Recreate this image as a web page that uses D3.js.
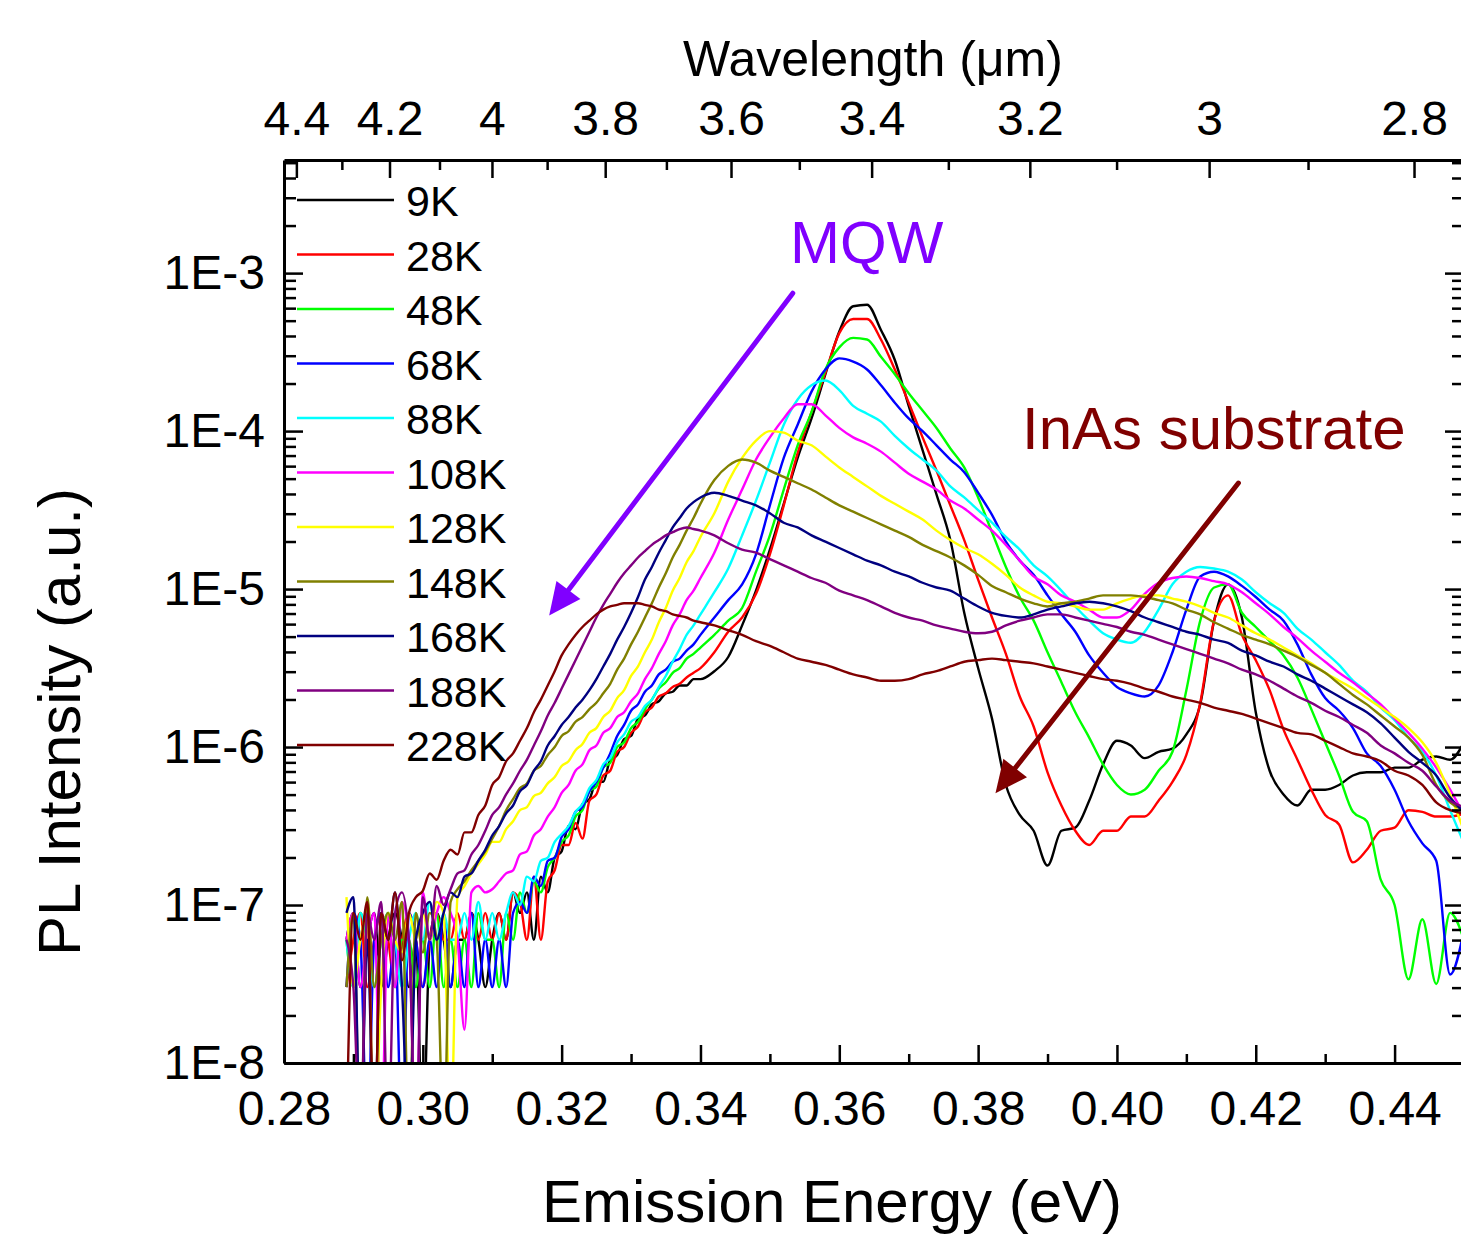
<!DOCTYPE html>
<html>
<head>
<meta charset="utf-8">
<script src="https://cdn.jsdelivr.net/npm/d3@7"></script>
<style>
body { margin: 0; background: #fff; }
text { font-family: Arial, "Liberation Sans", sans-serif; }
</style>
</head>
<body>
<div id="chart"></div>
<script>
// emission energy grid (eV): fine steps over the noisy low-energy side
var energy = [0.289,0.290,0.291,0.292,0.293,0.294,0.295,0.296,0.297,0.298,0.299,0.300,0.301,0.302,0.303,0.304,0.305,0.306,0.307,0.308,0.309,
  0.310,0.311,0.312,0.313,0.314,0.315,0.316,0.317,0.318,0.319,0.320,0.321,0.322,0.323,0.324,0.325,0.326,0.327,0.328,0.329,
  0.330,0.331,0.332,0.333,0.334,0.335,0.336,0.337,0.338,0.339,0.340,
  0.342,0.344,0.346,0.348,0.350,
  0.352,0.354,0.356,0.358,0.360,0.362,0.364,0.366,0.368,0.370,
  0.372,0.374,0.376,0.378,0.380,0.382,0.384,0.386,0.388,0.390,
  0.392,0.394,0.396,0.398,0.400,0.402,0.404,0.406,0.408,0.410,
  0.412,0.414,0.416,0.418,0.420,0.422,0.424,0.426,0.428,0.430,
  0.432,0.434,0.436,0.438,0.440,0.442,0.444,0.446,0.448,0.450]

var temps = ["9K","28K","48K","68K","88K","108K","128K","148K","168K","188K","228K"]
var colors = ["#000000","#ff0000","#00ff00","#0000ff","#00ffff","#ff00ff","#ffff00","#808000","#000080","#800080","#800000"]

// log10 of PL intensity (a.u.), one value per energy
var lg9K = [-7.22,-7.05,-7.52,-7.22,-7.05,-7.52,-7.22,-7.05,-7.22,-7.52,-7.22,-8.5,-7.22,-7.05,-7.22,-7.52,-7.22,-7.22,-7.05,-7.22,-7.52,
  -7.22,-7.05,-7.22,-6.92,-7.05,-6.92,-7.22,-6.82,-6.92,-6.70,-6.66,-6.50,-6.52,-6.36,-6.33,-6.22,-6.22,-6.08,-6.05,-5.95,
  -5.93,-5.82,-5.80,-5.73,-5.71,-5.66,-5.65,-5.61,-5.61,-5.57,-5.57,
  -5.52,-5.43,-5.23,-5.01,-4.75,
  -4.46,-4.17,-3.92,-3.64,-3.37,-3.21,-3.20,-3.36,-3.55,-3.84,
  -4.12,-4.40,-4.69,-5.15,-5.50,-5.82,-6.24,-6.43,-6.53,-6.75,
  -6.53,-6.51,-6.34,-6.11,-5.96,-5.99,-6.07,-6.03,-6.01,-5.92,
  -5.73,-5.20,-4.97,-5.18,-5.78,-6.15,-6.30,-6.37,-6.27,-6.27,
  -6.24,-6.18,-6.16,-6.16,-6.13,-6.13,-6.08,-6.06,-6.08,-5.97]
var lg28K = [-7.52,-7.22,-7.05,-7.52,-7.22,-7.05,-7.22,-7.52,-7.22,-7.05,-7.22,-7.52,-7.22,-7.05,-7.22,-7.22,-7.05,-7.22,-7.05,-7.22,-7.05,
  -7.22,-7.05,-7.22,-6.92,-6.98,-7.22,-6.82,-7.22,-6.85,-6.78,-6.62,-6.62,-6.48,-6.58,-6.34,-6.30,-6.18,-6.15,-6.03,-6.0,
  -5.91,-5.87,-5.78,-5.75,-5.68,-5.66,-5.62,-5.60,-5.56,-5.53,-5.50,
  -5.40,-5.27,-5.18,-5.03,-4.78,
  -4.47,-4.14,-3.88,-3.63,-3.38,-3.29,-3.29,-3.42,-3.61,-3.82,
  -4.04,-4.25,-4.47,-4.69,-4.94,-5.18,-5.41,-5.68,-5.87,-6.16,
  -6.37,-6.53,-6.62,-6.53,-6.53,-6.44,-6.44,-6.34,-6.22,-6.05,
  -5.72,-5.20,-5.04,-5.29,-5.45,-5.64,-5.89,-6.08,-6.27,-6.43,
  -6.49,-6.73,-6.65,-6.53,-6.51,-6.40,-6.41,-6.44,-6.44,-6.42]
var lg48K = [-7.22,-7.52,-7.05,-7.22,-7.52,-7.22,-7.05,-7.52,-7.22,-7.22,-7.52,-7.22,-7.52,-7.05,-7.52,-7.22,-7.52,-7.22,-7.52,-7.05,-7.22,
  -7.22,-7.52,-7.05,-7.22,-6.92,-7.05,-6.85,-6.92,-6.76,-6.70,-6.60,-6.56,-6.44,-6.40,-6.28,-6.25,-6.13,-6.10,-6.00,-5.97,
  -5.88,-5.84,-5.76,-5.70,-5.63,-5.59,-5.53,-5.50,-5.44,-5.41,-5.37,
  -5.29,-5.20,-5.12,-4.89,-4.66,
  -4.37,-4.09,-3.88,-3.61,-3.47,-3.41,-3.42,-3.53,-3.64,-3.76,
  -3.87,-3.98,-4.11,-4.23,-4.42,-4.64,-4.86,-5.05,-5.20,-5.40,
  -5.59,-5.78,-5.94,-6.11,-6.24,-6.30,-6.27,-6.15,-6.03,-5.64,
  -5.20,-4.99,-4.97,-5.15,-5.24,-5.33,-5.42,-5.56,-5.76,-5.97,
  -6.18,-6.41,-6.47,-6.84,-7.0,-7.47,-7.09,-7.50,-7.05,-7.22]
var lg68K = [-7.52,-7.05,-7.22,-8.5,-7.22,-7.05,-7.52,-7.22,-8.5,-7.05,-7.22,-7.52,-7.22,-7.52,-7.05,-7.52,-7.22,-7.52,-7.05,-7.52,-7.22,
  -7.52,-7.22,-7.52,-7.05,-6.98,-7.05,-6.82,-6.88,-6.72,-6.70,-6.57,-6.52,-6.41,-6.38,-6.28,-6.22,-6.13,-6.04,-5.93,-5.86,
  -5.77,-5.73,-5.65,-5.61,-5.54,-5.51,-5.46,-5.44,-5.39,-5.35,-5.29,
  -5.18,-5.07,-4.97,-4.78,-4.47,
  -4.17,-3.96,-3.75,-3.61,-3.54,-3.56,-3.61,-3.71,-3.82,-3.92,
  -4.0,-4.09,-4.18,-4.26,-4.39,-4.53,-4.70,-4.82,-4.91,-5.04,
  -5.16,-5.27,-5.42,-5.53,-5.62,-5.66,-5.68,-5.61,-5.40,-5.13,
  -4.92,-4.89,-4.92,-4.98,-5.05,-5.13,-5.20,-5.35,-5.54,-5.69,
  -5.77,-5.88,-6.04,-6.12,-6.27,-6.47,-6.61,-6.72,-7.44,-7.16]
var lg88K = [-7.22,-7.52,-7.05,-7.22,-7.52,-7.22,-7.05,-7.22,-7.52,-7.22,-7.05,-7.22,-6.98,-7.22,-7.05,-7.22,-7.22,-7.05,-7.22,-6.98,-7.22,
  -7.05,-7.22,-7.05,-6.92,-7.0,-6.82,-6.85,-6.72,-6.70,-6.60,-6.55,-6.50,-6.41,-6.36,-6.26,-6.21,-6.11,-6.07,-5.97,-5.92,
  -5.84,-5.81,-5.74,-5.70,-5.62,-5.55,-5.46,-5.38,-5.29,-5.23,-5.16,
  -5.02,-4.87,-4.66,-4.44,-4.20,
  -3.96,-3.80,-3.71,-3.68,-3.74,-3.84,-3.89,-3.94,-4.03,-4.11,
  -4.18,-4.25,-4.35,-4.42,-4.50,-4.58,-4.67,-4.75,-4.85,-4.92,
  -5.01,-5.11,-5.20,-5.28,-5.32,-5.34,-5.27,-5.13,-4.97,-4.89,
  -4.86,-4.87,-4.89,-4.94,-5.02,-5.09,-5.15,-5.25,-5.32,-5.40,
  -5.48,-5.58,-5.65,-5.75,-5.83,-5.94,-6.03,-6.18,-6.40,-6.61]
var lg108K = [-7.22,-7.05,-7.52,-7.22,-7.05,-8.5,-7.05,-7.52,-6.98,-7.22,-8.5,-6.92,-7.22,-7.05,-6.95,-7.05,-7.22,-7.79,-6.92,-6.88,-6.92,
  -6.9,-6.85,-6.80,-6.78,-6.68,-6.66,-6.56,-6.52,-6.44,-6.38,-6.29,-6.24,-6.15,-6.11,-6.02,-5.99,-5.91,-5.88,-5.81,-5.78,
  -5.71,-5.66,-5.57,-5.50,-5.41,-5.33,-5.23,-5.16,-5.07,-5.01,-4.93,
  -4.77,-4.56,-4.37,-4.18,-4.04,
  -3.92,-3.83,-3.83,-3.90,-3.98,-4.04,-4.08,-4.13,-4.20,-4.27,
  -4.32,-4.37,-4.44,-4.49,-4.56,-4.63,-4.72,-4.82,-4.92,-4.97,
  -5.04,-5.08,-5.13,-5.18,-5.18,-5.13,-5.03,-4.96,-4.93,-4.92,
  -4.93,-4.95,-4.97,-5.02,-5.09,-5.16,-5.24,-5.31,-5.39,-5.46,
  -5.53,-5.59,-5.66,-5.73,-5.82,-5.91,-6.01,-6.13,-6.27,-6.43]
var lg128K = [-6.95,-7.52,-7.22,-7.05,-8.5,-7.52,-7.05,-7.22,-7.3,-7.05,-7.22,-7.05,-7.22,-6.98,-7.05,-8.5,-6.95,-6.88,-6.8,-6.74,-6.68,
  -6.6,-6.60,-6.52,-6.47,-6.40,-6.38,-6.31,-6.29,-6.23,-6.19,-6.12,-6.09,-6.02,-5.98,-5.91,-5.88,-5.81,-5.77,-5.69,-5.64,
  -5.55,-5.49,-5.40,-5.32,-5.21,-5.12,-5.01,-4.93,-4.83,-4.76,-4.67,
  -4.52,-4.32,-4.17,-4.06,-4.0,
  -4.01,-4.06,-4.09,-4.16,-4.23,-4.29,-4.35,-4.41,-4.46,-4.51,
  -4.56,-4.63,-4.69,-4.74,-4.78,-4.84,-4.91,-4.99,-5.04,-5.08,
  -5.09,-5.11,-5.13,-5.13,-5.09,-5.06,-5.04,-5.04,-5.06,-5.08,
  -5.11,-5.15,-5.18,-5.23,-5.28,-5.32,-5.37,-5.42,-5.47,-5.53,
  -5.58,-5.63,-5.69,-5.75,-5.81,-5.88,-5.97,-6.10,-6.30,-6.53]
var lg148K = [-7.52,-7.05,-8.5,-6.95,-7.52,-7.22,-7.05,-7.22,-6.98,-8.5,-7.05,-7.3,-7.05,-7.22,-8.5,-6.98,-6.9,-6.85,-6.78,-6.72,-6.66,
  -6.58,-6.50,-6.40,-6.33,-6.26,-6.23,-6.15,-6.12,-6.05,-6.00,-5.93,-5.90,-5.84,-5.81,-5.76,-5.72,-5.66,-5.60,-5.51,-5.44,
  -5.35,-5.27,-5.18,-5.09,-4.99,-4.90,-4.80,-4.72,-4.63,-4.55,-4.46,
  -4.31,-4.22,-4.18,-4.20,-4.25,
  -4.29,-4.33,-4.37,-4.42,-4.47,-4.51,-4.55,-4.59,-4.63,-4.67,
  -4.72,-4.76,-4.80,-4.85,-4.91,-4.98,-5.02,-5.06,-5.09,-5.11,
  -5.09,-5.08,-5.06,-5.04,-5.04,-5.04,-5.05,-5.07,-5.09,-5.13,
  -5.16,-5.21,-5.25,-5.29,-5.32,-5.35,-5.39,-5.43,-5.48,-5.53,
  -5.60,-5.67,-5.73,-5.80,-5.87,-5.94,-6.05,-6.24,-6.35,-6.40]
var lg168K = [-7.05,-6.95,-8.5,-7.22,-8.5,-7.05,-7.22,-6.92,-7.52,-8.5,-7.22,-7.05,-6.98,-7.22,-7.05,-6.92,-6.95,-6.82,-6.8,-6.72,-6.65,
  -6.56,-6.50,-6.42,-6.37,-6.28,-6.24,-6.15,-6.09,-5.99,-5.93,-5.86,-5.81,-5.75,-5.70,-5.64,-5.57,-5.49,-5.41,-5.32,-5.24,
  -5.15,-5.05,-4.94,-4.86,-4.77,-4.69,-4.61,-4.55,-4.49,-4.45,-4.42,
  -4.39,-4.41,-4.44,-4.47,-4.52,
  -4.58,-4.61,-4.66,-4.70,-4.74,-4.78,-4.82,-4.85,-4.89,-4.92,
  -4.96,-4.99,-5.01,-5.06,-5.11,-5.15,-5.17,-5.18,-5.16,-5.13,
  -5.11,-5.09,-5.08,-5.09,-5.11,-5.14,-5.18,-5.21,-5.24,-5.27,
  -5.29,-5.32,-5.34,-5.39,-5.42,-5.46,-5.49,-5.54,-5.58,-5.63,
  -5.68,-5.73,-5.78,-5.85,-5.94,-6.03,-6.10,-6.18,-6.32,-6.41]
var lg188K = [-7.22,-7.52,-8.5,-7.05,-7.22,-6.98,-8.5,-7.05,-6.92,-7.22,-8.5,-6.95,-7.22,-6.88,-7.0,-6.90,-6.8,-6.78,-6.68,-6.62,-6.53,
  -6.43,-6.38,-6.30,-6.23,-6.15,-6.08,-5.99,-5.90,-5.80,-5.72,-5.63,-5.54,-5.45,-5.36,-5.27,-5.18,-5.10,-5.03,-4.96,-4.90,
  -4.85,-4.80,-4.76,-4.72,-4.69,-4.66,-4.64,-4.62,-4.61,-4.62,-4.63,
  -4.66,-4.71,-4.75,-4.77,-4.81,
  -4.85,-4.89,-4.93,-4.96,-5.01,-5.04,-5.07,-5.11,-5.15,-5.18,
  -5.20,-5.23,-5.25,-5.27,-5.28,-5.27,-5.23,-5.20,-5.18,-5.16,
  -5.16,-5.18,-5.20,-5.22,-5.24,-5.27,-5.29,-5.32,-5.35,-5.38,
  -5.41,-5.44,-5.47,-5.51,-5.54,-5.58,-5.63,-5.68,-5.72,-5.77,
  -5.81,-5.86,-5.91,-5.99,-6.04,-6.10,-6.15,-6.25,-6.34,-6.38]
var lg228K = [-8.5,-7.05,-7.22,-6.98,-8.5,-7.05,-7.22,-6.92,-7.35,-7.05,-6.95,-6.91,-6.80,-6.84,-6.72,-6.65,-6.68,-6.54,-6.54,-6.43,-6.37,
  -6.24,-6.19,-6.09,-6.04,-5.96,-5.88,-5.78,-5.70,-5.61,-5.52,-5.42,-5.35,-5.29,-5.24,-5.20,-5.16,-5.13,-5.11,-5.10,-5.09,
  -5.09,-5.09,-5.10,-5.11,-5.13,-5.14,-5.16,-5.17,-5.18,-5.20,-5.21,
  -5.23,-5.26,-5.29,-5.33,-5.36,
  -5.40,-5.44,-5.46,-5.48,-5.51,-5.54,-5.56,-5.58,-5.58,-5.57,
  -5.54,-5.52,-5.49,-5.46,-5.45,-5.44,-5.45,-5.46,-5.47,-5.49,
  -5.51,-5.53,-5.55,-5.57,-5.58,-5.60,-5.63,-5.65,-5.68,-5.70,
  -5.72,-5.75,-5.77,-5.79,-5.82,-5.85,-5.88,-5.91,-5.92,-5.96,
  -6.00,-6.04,-6.06,-6.09,-6.15,-6.18,-6.24,-6.35,-6.40,-6.42]

var logSeries = [lg9K, lg28K, lg48K, lg68K, lg88K, lg108K, lg128K, lg148K, lg168K, lg188K, lg228K]

// axis ticks
var xTicks = [0.28,0.30,0.32,0.34,0.36,0.38,0.40,0.42,0.44]
var xTickLabels = ["0.28","0.30","0.32","0.34","0.36","0.38","0.40","0.42","0.44"]
var xMinor = [0.29,0.31,0.33,0.35,0.37,0.39,0.41,0.43]
var yTicks = [1e-8,1e-7,1e-6,1e-5,1e-4,1e-3]
var yTickLabels = ["1E-8","1E-7","1E-6","1E-5","1E-4","1E-3"]
var wlTicks = [4.4,4.2,4.0,3.8,3.6,3.4,3.2,3.0,2.8]
var wlTickLabels = ["4.4","4.2","4","3.8","3.6","3.4","3.2","3","2.8"]
var wlMinor = [4.3,4.1,3.9,3.7,3.5,3.3,3.1,2.9]
var hc = 1.23984 // eV*um

var W = 1461, H = 1237
var padL = 284, padR = 1464, padT = 160, padB = 1063

var svg = d3.select("#chart").append("svg")
    .attr("width", W)
    .attr("height", H)
    .style("background", "#fff")

var x = d3.scaleLinear().domain([0.28, 0.45]).range([padL, padR])
var y = d3.scaleLog().domain([1e-8, 5.2e-3]).range([padB, padT])

var yMinor = []
yTicks.forEach(function(d) {
    for (var k = 2; k <= 9; k++) if (d * k < 5.2e-3) yMinor.push(d * k)
})

svg.append("clipPath").attr("id", "plotClip")
    .append("rect")
    .attr("x", padL).attr("y", padT)
    .attr("width", padR - padL).attr("height", padB - padT)

// curves: first temperature drawn first, 228K ends on top
var line = d3.line()
    .x(function(d) { return x(d[0]) })
    .y(function(d) { return y(d[1]) })
    .curve(d3.curveMonotoneX)

var curves = svg.append("g").attr("clip-path", "url(#plotClip)")
logSeries.forEach(function(s, i) {
    var pts = energy.map(function(e, j) { return [e, Math.pow(10, s[j])] })
    curves.append("path")
        .datum(pts)
        .attr("d", line)
        .attr("fill", "none")
        .attr("stroke", colors[i])
        .attr("stroke-width", 2.4)
        .attr("stroke-linejoin", "round")
})

function styleAxis(g, size) {
    g.selectAll(".domain").attr("stroke", "#000").attr("stroke-width", 3)
    g.selectAll(".tick line").attr("stroke", "#000").attr("stroke-width", 2.5)
    g.selectAll("text").attr("font-family", "Arial, 'Liberation Sans', sans-serif")
        .attr("font-size", size).attr("fill", "#000")
}

// bottom axis
var gx = svg.append("g").attr("transform", "translate(0," + padB + ")")
    .call(d3.axisBottom(x).tickValues(xTicks).tickSizeInner(-18).tickSizeOuter(0).tickPadding(28)
        .tickFormat(function(d, i) { return xTickLabels[i] }))
styleAxis(gx, 48)
svg.append("g").attr("transform", "translate(0," + padB + ")")
    .call(d3.axisBottom(x).tickValues(xMinor).tickSizeInner(-9).tickSizeOuter(0).tickFormat(""))
    .call(function(g) { g.select(".domain").remove(); styleAxis(g, 48) })

// left axis
var gy = svg.append("g").attr("transform", "translate(" + padL + ",0)")
    .call(d3.axisLeft(y).tickValues(yTicks).tickSizeInner(-19).tickSizeOuter(0).tickPadding(19)
        .tickFormat(function(d, i) { return yTickLabels[i] }))
styleAxis(gy, 48)
svg.append("g").attr("transform", "translate(" + padL + ",0)")
    .call(d3.axisLeft(y).tickValues(yMinor).tickSizeInner(-12).tickSizeOuter(0).tickFormat(""))
    .call(function(g) { g.select(".domain").remove(); styleAxis(g, 48) })

// right axis (no labels)
svg.append("g").attr("transform", "translate(" + padR + ",0)")
    .call(d3.axisRight(y).tickValues(yTicks).tickSizeInner(-19).tickSizeOuter(0).tickFormat(""))
    .call(function(g) { styleAxis(g, 48) })
svg.append("g").attr("transform", "translate(" + padR + ",0)")
    .call(d3.axisRight(y).tickValues(yMinor).tickSizeInner(-12).tickSizeOuter(0).tickFormat(""))
    .call(function(g) { g.select(".domain").remove(); styleAxis(g, 48) })

// top axis: wavelength in um
var gt = svg.append("g").attr("transform", "translate(0," + padT + ")")
    .call(d3.axisTop(x).tickValues(wlTicks.map(function(w) { return hc / w })).tickSizeInner(-18).tickSizeOuter(0).tickPadding(25)
        .tickFormat(function(d, i) { return wlTickLabels[i] }))
styleAxis(gt, 48)
svg.append("g").attr("transform", "translate(0," + padT + ")")
    .call(d3.axisTop(x).tickValues(wlMinor.map(function(w) { return hc / w })).tickSizeInner(-10).tickSizeOuter(0).tickFormat(""))
    .call(function(g) { g.select(".domain").remove(); styleAxis(g, 48) })

// axis titles
svg.append("text").attr("x", 832).attr("y", 1222)
    .attr("text-anchor", "middle").attr("font-size", 60).text("Emission Energy (eV)")
svg.append("text").attr("x", 873).attr("y", 76)
    .attr("text-anchor", "middle").attr("font-size", 50).text("Wavelength (\u03bcm)")
svg.append("text")
    .attr("transform", "translate(80,722) rotate(-90)")
    .attr("text-anchor", "middle").attr("font-size", 60).text("PL Intensity (a.u.)")

// legend
var legend = svg.append("g")
temps.forEach(function(t, i) {
    var ly = 200 + i * 54.5
    legend.append("line").attr("x1", 297).attr("x2", 394).attr("y1", ly).attr("y2", ly)
        .attr("stroke", colors[i]).attr("stroke-width", 2.4)
    legend.append("text").attr("x", 406).attr("y", ly + 16)
        .attr("font-size", 43).text(t)
})

// annotations
function arrow(x1, y1, x2, y2, color) {
    var ang = Math.atan2(y2 - y1, x2 - x1)
    var len = 32, hw = 15
    var bx = x2 - len * Math.cos(ang), by = y2 - len * Math.sin(ang)
    svg.append("line").attr("x1", x1).attr("y1", y1).attr("x2", bx).attr("y2", by)
        .attr("stroke", color).attr("stroke-width", 5).attr("stroke-linecap", "round")
    svg.append("polygon")
        .attr("points", [[x2, y2],
            [bx + hw * Math.sin(ang), by - hw * Math.cos(ang)],
            [bx - hw * Math.sin(ang), by + hw * Math.cos(ang)]].map(function(p) { return p.join(",") }).join(" "))
        .attr("fill", color)
}
arrow(x(0.3533), y(7.46e-4), x(0.3182), y(6.8e-6), "#8000ff")
arrow(x(0.4175), y(4.69e-5), x(0.3825), y(5.1e-7), "#800000")

svg.append("text").attr("x", 790).attr("y", 263)
    .attr("font-size", 60).attr("fill", "#8000ff").text("MQW")
svg.append("text").attr("x", 1022).attr("y", 449)
    .attr("font-size", 60).attr("fill", "#800000").text("InAs substrate")
</script>
</body>
</html>
